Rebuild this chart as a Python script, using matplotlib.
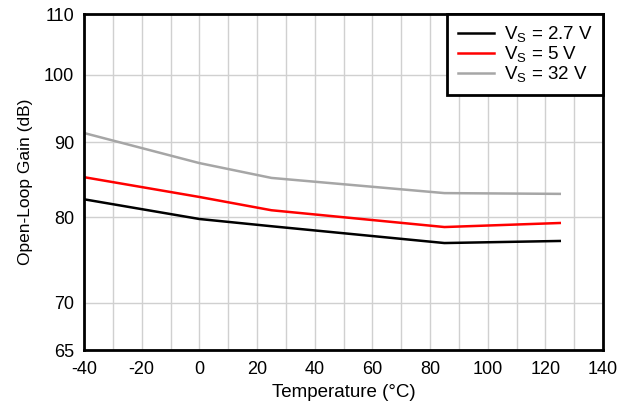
import matplotlib
matplotlib.use("Agg")
import matplotlib.pyplot as plt
from matplotlib.ticker import FixedLocator, NullLocator, MultipleLocator

plt.rcParams['font.family'] = ['Liberation Sans', 'DejaVu Sans']
plt.rcParams['mathtext.fontset'] = 'custom'
plt.rcParams['mathtext.rm'] = 'Liberation Sans'
plt.rcParams['mathtext.it'] = 'Liberation Sans:italic'
plt.rcParams['mathtext.bf'] = 'Liberation Sans:bold'

temps = [-40, 0, 25, 85, 125]
vs27 = [82.3, 79.8, 78.9, 76.85, 77.1]
vs5 = [85.2, 82.6, 80.9, 78.8, 79.3]
vs32 = [91.3, 87.1, 85.1, 83.1, 83.0]
labels = [r'V$_\mathrm{S}$ = 2.7 V', r'V$_\mathrm{S}$ = 5 V', r'V$_\mathrm{S}$ = 32 V']
yticks = [65, 70, 80, 90, 100, 110]
xticks = list(range(-40, 141, 20))

fig = plt.figure(figsize=(6.3, 4.05), dpi=100)
ax = fig.add_axes([84/630, 1-350/405, (603-84)/630, (350-14)/405])

ax.plot(temps, vs27, color='black', lw=1.8, label=labels[0])
ax.plot(temps, vs5, color='#ff0000', lw=1.8, label=labels[1])
ax.plot(temps, vs32, color='#a6a6a6', lw=1.8, label=labels[2])

ax.set_yscale('log')
ax.set_ylim(65, 110)
ax.set_xlim(-40, 140)
ax.yaxis.set_major_locator(FixedLocator(yticks))
ax.yaxis.set_minor_locator(NullLocator())
ax.set_yticklabels([str(t) for t in yticks])
ax.set_xticks(xticks)
ax.set_xticklabels([str(t) for t in xticks])
ax.xaxis.set_minor_locator(MultipleLocator(10))

ax.grid(True, which='major', axis='y', color='#d0d0d0', lw=1)
ax.grid(True, which='both', axis='x', color='#d0d0d0', lw=1)
ax.set_axisbelow(True)
ax.tick_params(which='both', length=0, labelsize=13)
ax.tick_params(axis='x', pad=8)
ax.tick_params(axis='y', pad=7)

for s in ax.spines.values():
    s.set_linewidth(2)
    s.set_color('black')

ax.set_xlabel('Temperature (°C)', fontsize=13.5, labelpad=4)
ax.set_ylabel('Open-Loop Gain (dB)', fontsize=12.5, labelpad=8)

leg = ax.legend(loc='upper right', fontsize=13.5, frameon=True, fancybox=False,
                borderaxespad=0, handlelength=1.95, labelspacing=0.0,
                borderpad=0.55, handletextpad=0.5)
leg.get_frame().set_edgecolor('black')
leg.get_frame().set_linewidth(2)
leg.get_frame().set_alpha(1)

fig.savefig('out.png', dpi=100)
